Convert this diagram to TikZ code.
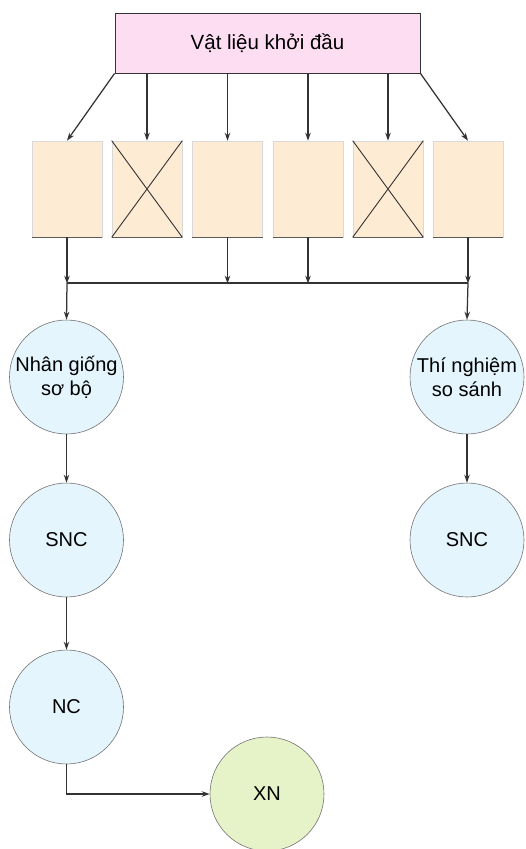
\documentclass[tikz,border=0pt]{standalone}
\usepackage{fontspec}
\setmainfont{Liberation Sans}
\usetikzlibrary{arrows.meta}
\definecolor{pinkfill}{HTML}{FDDDF1}
\definecolor{boxfill}{HTML}{FDEBD3}
\definecolor{bluefill}{HTML}{E4F5FD}
\definecolor{greenfill}{HTML}{E6F3C9}
\definecolor{linec}{HTML}{333333}
\tikzset{
  topbox/.style={draw=linec, line width=0.9pt, fill=pinkfill, minimum width=305pt, minimum height=60pt, inner sep=0pt, font=\fontsize{20.5}{24}\selectfont},
  subbox/.style={draw=black!15, line width=0.6pt, fill=boxfill, minimum width=70pt, minimum height=96pt, inner sep=0pt},
  blobc/.style={circle, draw=black!55, line width=0.6pt, fill=bluefill, minimum size=114pt, inner sep=0pt, align=center, font=\fontsize{20}{24}\selectfont},
  blobg/.style={blobc, fill=greenfill},
  arr/.style={draw=linec, line width=1.25pt, -{Stealth[length=8pt,width=5.5pt]}},
  plain/.style={draw=linec, line width=1.25pt},
  crossln/.style={draw=linec, line width=0.9pt},
  bottomln/.style={draw=black!65, line width=0.9pt}
}
\begin{document}
\begin{tikzpicture}[x=1pt,y=-1pt]
\useasboundingbox (0,0) rectangle (526,849);
\node[topbox] (top) at (267.5,43) {Vật liệu khởi đầu};
\node[subbox] (b1) at (67,189) {};
\node[subbox] (b2) at (147,189) {};
\node[subbox] (b3) at (227.5,189) {};
\node[subbox] (b4) at (308,189) {};
\node[subbox] (b5) at (388,189) {};
\node[subbox] (b6) at (468,189) {};
\foreach \b in {b1,b2,b3,b4,b5,b6}{
  \draw[bottomln] (\b.south west) -- (\b.south east);
}
\draw[crossln] (b2.north west) -- (b2.south east) (b2.north east) -- (b2.south west);
\draw[crossln] (b5.north west) -- (b5.south east) (b5.north east) -- (b5.south west);
% arrows from top box
\draw[arr] (top.south west) -- (b1.north);
\draw[arr] (top.south -| b2.north) -- (b2.north);
\draw[arr] (top.south -| b3.north) -- (b3.north);
\draw[arr] (top.south -| b4.north) -- (b4.north);
\draw[arr] (top.south -| b5.north) -- (b5.north);
\draw[arr] (top.south east) -- (b6.north);
% bus
\coordinate (busL) at (67,283);
\coordinate (busR) at (468,283);
\draw[plain] (busL) -- (busR);
\foreach \b in {b1,b3,b4,b6}{
  \draw[arr] (\b.south) -- ([yshift=-0.6pt]\b.south |- busL);
}
% circles
\node[blobc] (c1) at (66.5,377) {Nhân giống\\sơ bộ};
\node[blobc] (c2) at (467,377) {Thí nghiệm\\so sánh};
\node[blobc] (s1) at (66.5,540) {SNC};
\node[blobc] (s2) at (467,540) {SNC};
\node[blobc] (nc) at (66.5,707) {NC};
\node[blobg] (xn) at (267,794) {XN};
\draw[arr] (busL) -- (c1.north);
\draw[arr] (busR) -- (c2.north);
\draw[arr] (c1.south) -- (s1.north);
\draw[arr] (c2.south) -- (s2.north);
\draw[arr] (s1.south) -- (nc.north);
\draw[arr] (nc.south) |- (xn.west);
\end{tikzpicture}
\end{document}
